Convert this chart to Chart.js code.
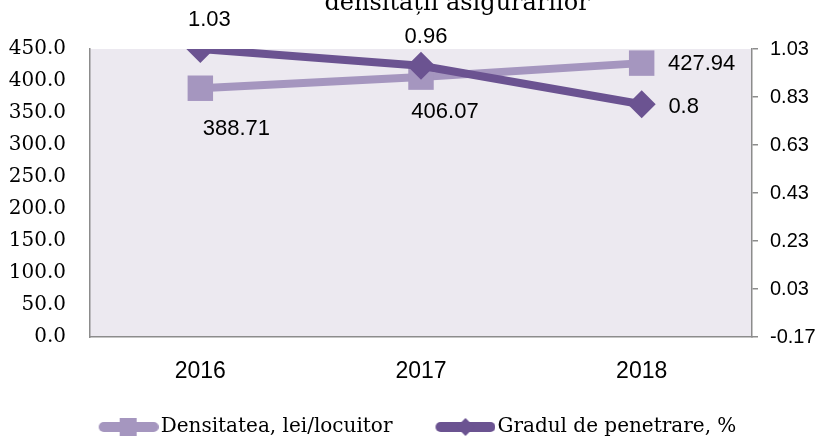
<!DOCTYPE html>
<html>
<head>
<meta charset="utf-8">
<script src="https://cdn.jsdelivr.net/npm/chart.js@4"></script>
<style>
  html, body { margin: 0; padding: 0; background: #fff; }
  #wrap { width: 825px; height: 439px; }
</style>
</head>
<body>
<div id="wrap"><canvas id="chart" width="825" height="439"></canvas></div>
<script>
//Data
const years = ["2016", "2017", "2018"];
const densitate = [388.71, 406.07, 427.94];
const penetrare = [1.03, 0.96, 0.8];
const leftTicks = [0, 50, 100, 150, 200, 250, 300, 350, 400, 450];
const rightTicks = [-0.17, 0.03, 0.23, 0.43, 0.63, 0.83, 1.03];
const seriesNames = ["Densitatea, lei/locuitor", "Gradul de penetrare, %"];
const titleText = "densității asigurărilor";

const lightPurple = '#A596BF';
const darkPurple = '#6B5391';
const axisGray = '#8c8c8c';
const sansFont = "'Liberation Sans', Arial, sans-serif";
const serifFont = "'DejaVu Serif', serif";

//Label offsets (px from the point) like the excel placement
const lightLabelOffsets = [[36, 41], [24, 35], [60, 1]];
const darkLabelOffsets = [[9, -29], [5, -29], [42, 3]];

//Legend icons: line with marker in the middle, transparent space on the left
//so the items get the same spacing as in excel
const iconGap = 18;
function legendIcon(color, shape) {
  const c = document.createElement('canvas');
  c.width = 60 + iconGap;
  c.height = 20;
  const ctx = c.getContext('2d');
  const x0 = iconGap;
  ctx.strokeStyle = color;
  ctx.fillStyle = color;
  ctx.lineWidth = 10;
  ctx.lineCap = 'round';
  ctx.beginPath();
  ctx.moveTo(x0 + 5, 10);
  ctx.lineTo(x0 + 55, 10);
  ctx.stroke();
  ctx.beginPath();
  if (shape === 'square') {
    ctx.rect(x0 + 21, 1, 17, 18);
  } else {
    ctx.moveTo(x0 + 30, 1);
    ctx.lineTo(x0 + 39, 10);
    ctx.lineTo(x0 + 30, 19);
    ctx.lineTo(x0 + 21, 10);
    ctx.closePath();
  }
  ctx.fill();
  return c;
}

const plotBackground = {
  id: 'plotBackground',
  beforeDraw(chart) {
    const a = chart.chartArea;
    const ctx = chart.ctx;
    ctx.save();
    ctx.fillStyle = '#ECE9F0';
    ctx.fillRect(a.left, a.top, a.right - a.left, a.bottom - a.top);
    ctx.restore();
  }
};

//Title is cut at the top in the original, draw only the visible line
const cutTitle = {
  id: 'cutTitle',
  afterDraw(chart) {
    const ctx = chart.ctx;
    ctx.save();
    ctx.font = "24px " + serifFont;
    ctx.fillStyle = '#000';
    ctx.textAlign = 'center';
    ctx.textBaseline = 'alphabetic';
    ctx.fillText(titleText, 457, 10);
    ctx.restore();
  }
};

//Value labels drawn next to each point
const valueLabels = {
  id: 'valueLabels',
  afterDatasetsDraw(chart) {
    const ctx = chart.ctx;
    ctx.save();
    ctx.font = "22px " + sansFont;
    ctx.fillStyle = '#000';
    ctx.textAlign = 'center';
    ctx.textBaseline = 'middle';
    chart.data.datasets.forEach((ds, i) => {
      const meta = chart.getDatasetMeta(i);
      const offsets = i === 0 ? lightLabelOffsets : darkLabelOffsets;
      meta.data.forEach((pt, j) => {
        ctx.fillText(String(ds.data[j]), pt.x + offsets[j][0], pt.y + offsets[j][1]);
      });
    });
    ctx.restore();
  }
};

const chart = new Chart(document.getElementById('chart'), {
  type: 'line',
  data: {
    labels: years,
    datasets: [{
      label: seriesNames[0],
      data: densitate,
      yAxisID: 'y',
      borderColor: lightPurple,
      backgroundColor: lightPurple,
      borderWidth: 8,
      pointStyle: 'rect',
      pointRadius: 18,
      pointBorderWidth: 0,
      pointBackgroundColor: lightPurple,
      order: 2
    }, {
      label: seriesNames[1],
      data: penetrare,
      yAxisID: 'y1',
      borderColor: darkPurple,
      backgroundColor: darkPurple,
      borderWidth: 8,
      pointStyle: 'rectRot',
      pointRadius: 14,
      pointBorderWidth: 0,
      pointBackgroundColor: darkPurple,
      order: 1
    }]
  },
  options: {
    responsive: false,
    animation: false,
    layout: {
      padding: { top: 49, bottom: -8 }
    },
    scales: {
      x: {
        offset: true,
        grid: { display: false, drawTicks: false },
        border: { display: true, color: axisGray, width: 1.5 },
        ticks: {
          color: '#000',
          padding: 21,
          font: { family: sansFont, size: 23 }
        },
        afterFit(scale) { scale.height = 47; }
      },
      y: {
        position: 'left',
        min: 0,
        max: 450,
        afterBuildTicks(scale) { scale.ticks = leftTicks.map(v => ({ value: v })); },
        grid: { display: false, drawTicks: false },
        border: { display: true, color: axisGray, width: 1.5 },
        ticks: {
          color: '#000',
          padding: 24,
          font: { family: serifFont, size: 20 },
          callback: v => v.toFixed(1)
        },
        afterFit(scale) { scale.width = 90; }
      },
      y1: {
        position: 'right',
        min: -0.17,
        max: 1.03,
        afterBuildTicks(scale) { scale.ticks = rightTicks.map(v => ({ value: v })); },
        grid: {
          display: true,
          drawOnChartArea: false,
          drawTicks: true,
          tickLength: 6,
          color: axisGray,
          lineWidth: 1.5
        },
        border: { display: true, color: axisGray, width: 1.5 },
        ticks: {
          color: '#000',
          padding: 12,
          font: { family: sansFont, size: 20 },
          callback: v => v.toFixed(2)
        },
        afterFit(scale) { scale.width = 73; }
      }
    },
    plugins: {
      legend: {
        position: 'bottom',
        labels: {
          usePointStyle: true,
          pointStyleWidth: 44 + iconGap,
          padding: 33,
          color: '#000',
          font: { family: serifFont, size: 20 },
          sort: (a, b) => a.datasetIndex - b.datasetIndex,
          generateLabels(chart) {
            return chart.data.datasets.map((ds, i) => ({
              text: ds.label,
              datasetIndex: i,
              pointStyle: legendIcon(ds.borderColor, i === 0 ? 'square' : 'diamond'),
              fillStyle: ds.borderColor,
              strokeStyle: ds.borderColor,
              lineWidth: 0,
              hidden: false,
              fontColor: '#000'
            }));
          }
        }
      },
      tooltip: { enabled: false }
    }
  },
  plugins: [plotBackground, cutTitle, valueLabels]
});
</script>
</body>
</html>
